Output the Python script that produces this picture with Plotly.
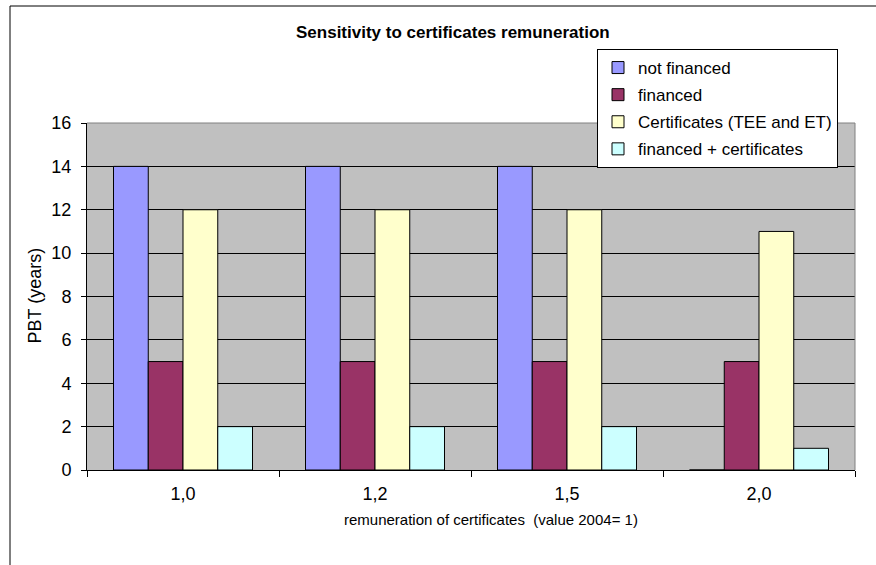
import plotly.graph_objects as go

# Remuneration multipliers (value 2004 = 1)
categories = ["1,0", "1,2", "1,5", "2,0"]

# Pay-back time in years for each scenario
not_financed = [14, 14, 14, 0]
financed = [5, 5, 5, 5]
certificates = [12, 12, 12, 11]
financed_certificates = [2, 2, 2, 1]

series_names = [
    "not financed",
    "financed",
    "Certificates (TEE and ET)",
    "financed + certificates",
]
series_values = [not_financed, financed, certificates, financed_certificates]
series_colors = ["#9999FF", "#993366", "#FFFFCC", "#CCFFFF"]

W, H = 876, 565
L, R, T, B = 87, 21, 123, 95
pw, ph = W - L - R, H - T - B


def px_x(x):
    return (x - L) / pw


def px_y(y):
    return (H - B - y) / ph


FONT = "Liberation Sans, Arial, sans-serif"

fig = go.Figure()
for i, (name, vals, col) in enumerate(zip(series_names, series_values, series_colors)):
    fig.add_trace(
        go.Bar(
            x=categories,
            y=vals,
            name=name,
            legendgroup=f"g{i}",
            marker=dict(color=col, line=dict(color="#000000", width=1)),
        )
    )

fig.update_layout(
    width=W,
    height=H,
    margin=dict(l=L, r=R, t=T, b=B),
    paper_bgcolor="#FFFFFF",
    plot_bgcolor="#C0C0C0",
    barmode="group",
    bargap=0.276,
    bargroupgap=0,
    font=dict(family=FONT, size=15, color="#000000"),
    showlegend=True,
    legend=dict(
        x=px_x(838),
        y=px_y(49),
        xanchor="right",
        yanchor="top",
        bgcolor="#FFFFFF",
        bordercolor="#000000",
        borderwidth=1,
        font=dict(family=FONT, size=17, color="#000000"),
        itemwidth=30,
        traceorder="grouped",
        tracegroupgap=2,
    ),
    xaxis=dict(
        type="category",
        tickson="boundaries",
        ticks="outside",
        ticklen=6,
        tickcolor="#000000",
        showgrid=False,
        showline=True,
        linecolor="#000000",
        linewidth=1,
        tickfont=dict(family=FONT, size=18),
        ticklabelstandoff=7,
        zeroline=False,
    ),
    yaxis=dict(
        range=[0, 16],
        tick0=0,
        dtick=2,
        ticks="outside",
        ticklen=5,
        tickcolor="#000000",
        showgrid=True,
        gridcolor="#000000",
        gridwidth=1,
        showline=True,
        linecolor="#000000",
        linewidth=1,
        zeroline=False,
        tickfont=dict(family=FONT, size=18),
        ticklabelstandoff=6,
    ),
    shapes=[
        # grey plot-area frame on the top and right edges
        dict(type="line", xref="paper", yref="paper", x0=0, x1=1, y0=1, y1=1,
             line=dict(color="#808080", width=1), layer="above"),
        dict(type="line", xref="paper", yref="paper", x0=1, x1=1, y0=0, y1=1,
             line=dict(color="#808080", width=1), layer="above"),
        # chart-area border
        dict(type="line", xref="paper", yref="paper", x0=px_x(10), x1=px_x(900),
             y0=px_y(6), y1=px_y(6), line=dict(color="#000000", width=1)),
        dict(type="line", xref="paper", yref="paper", x0=px_x(10), x1=px_x(10),
             y0=px_y(6), y1=px_y(600), line=dict(color="#000000", width=1)),
    ],
    annotations=[
        dict(text="<b>Sensitivity to certificates remuneration</b>", xref="paper",
             yref="paper", x=px_x(453), y=px_y(32), xanchor="center", yanchor="middle",
             showarrow=False, font=dict(family=FONT, size=17)),
        dict(text="remuneration of certificates  (value 2004= 1)", xref="paper",
             yref="paper", x=px_x(491), y=px_y(519), xanchor="center", yanchor="middle",
             showarrow=False, font=dict(family=FONT, size=15)),
        dict(text="PBT (years)", xref="paper", yref="paper", x=px_x(34.5),
             y=px_y(296), xanchor="center", yanchor="middle", textangle=-90,
             showarrow=False, font=dict(family=FONT, size=18)),
    ],
)

fig.write_html("out.html")
